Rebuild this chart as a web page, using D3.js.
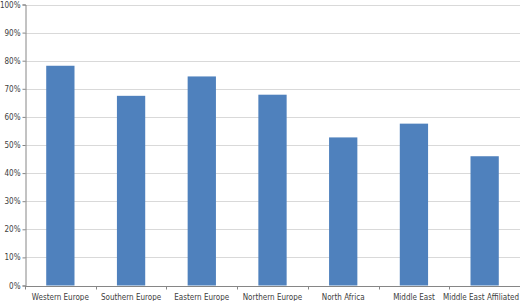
<!DOCTYPE html>
<html>
<head>
<meta charset="utf-8">
<script src="https://cdn.jsdelivr.net/npm/d3@7"></script>
<style>
  body { margin: 0; background: #fff; }
  text { font-family: "Liberation Sans Narrow", "DejaVu Sans Condensed", sans-serif; fill: #404040; }
</style>
</head>
<body>
<svg id="chart"></svg>
<script>
const regions = ["Western Europe", "Southern Europe", "Eastern Europe", "Northern Europe",
  "North Africa", "Middle East", "Middle East Affiliated"];
const shares = [0.782, 0.675, 0.744, 0.679, 0.527, 0.576, 0.460];
const yTicks = [0, 0.1, 0.2, 0.3, 0.4, 0.5, 0.6, 0.7, 0.8, 0.9, 1.0];

const width = 520, height = 301;
const margin = { top: 4.5, right: 0, bottom: 15.5, left: 25 };

const svg = d3.select("#chart").attr("width", width).attr("height", height);

const x = d3.scaleBand()
  .domain(regions)
  .range([margin.left, width - margin.right])
  .paddingInner(0.6)
  .paddingOuter(0.3);

const y = d3.scaleLinear()
  .domain([0, 1])
  .range([height - margin.bottom, margin.top]);

// gridlines
svg.append("g")
  .selectAll("line")
  .data(yTicks.slice(1))
  .enter()
  .append("line")
  .attr("x1", margin.left)
  .attr("x2", width - margin.right)
  .attr("y1", d => Math.round(y(d)) + 0.5)
  .attr("y2", d => Math.round(y(d)) + 0.5)
  .attr("stroke", "#d9d9d9")
  .attr("stroke-width", 1);

// bars
svg.append("g")
  .selectAll("rect")
  .data(regions)
  .enter()
  .append("rect")
  .attr("x", d => x(d))
  .attr("width", x.bandwidth())
  .attr("y", (d, i) => y(shares[i]))
  .attr("height", (d, i) => y(0) - y(shares[i]))
  .attr("fill", "#4f81bd");

// y axis
const yAxis = svg.append("g")
  .attr("transform", "translate(" + (margin.left + 0.5) + ",0)")
  .call(d3.axisLeft(y).tickValues(yTicks).tickFormat(d3.format(".0%")).tickSize(3).tickPadding(2));
yAxis.select(".domain").attr("stroke", "#868686");
yAxis.selectAll(".tick line").attr("stroke", "#868686");
yAxis.selectAll("text").style("font-size", "8px").attr("fill", "#404040");

// x axis
const step = x.step();
const xAxis = svg.append("g")
  .attr("transform", "translate(0," + (Math.round(y(0)) + 0.5) + ")");
xAxis.append("line")
  .attr("x1", margin.left)
  .attr("x2", width - margin.right)
  .attr("stroke", "#868686");
xAxis.selectAll(".tk")
  .data(d3.range(regions.length + 1))
  .enter()
  .append("line")
  .attr("x1", i => Math.round(margin.left + i * step) + 0.5)
  .attr("x2", i => Math.round(margin.left + i * step) + 0.5)
  .attr("y1", 0)
  .attr("y2", 3)
  .attr("stroke", "#868686");
xAxis.selectAll("text")
  .data(regions)
  .enter()
  .append("text")
  .attr("x", d => x(d) + x.bandwidth() / 2)
  .attr("y", 13)
  .attr("text-anchor", "middle")
  .style("font-size", "8px")
  .text(d => d)
  .each(function () {
    // keep the label inside the page
    const w = this.getComputedTextLength();
    const cx = +d3.select(this).attr("x");
    if (cx + w / 2 > width - 1) d3.select(this).attr("x", width - 1 - w / 2);
  });
</script>
</body>
</html>
